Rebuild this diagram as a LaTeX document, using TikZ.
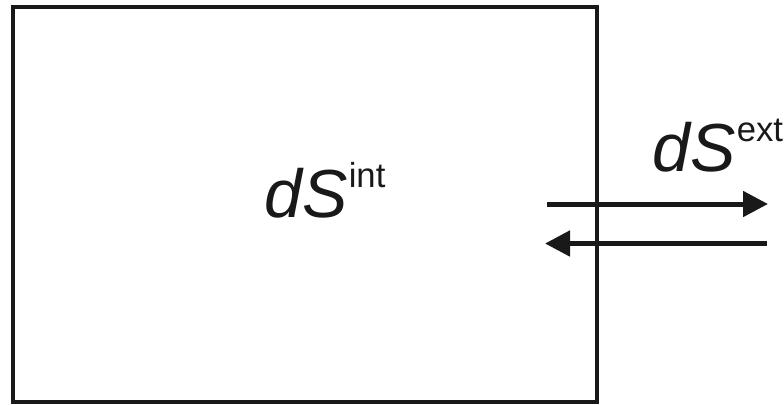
\documentclass[tikz,border=0pt]{standalone}
\usepackage{fontspec}
\setmainfont{Liberation Sans}
\usetikzlibrary{arrows.meta}
\tikzset{
  box/.style={draw=black!90, line width=3pt},
  flow/.style={draw=black!90, line width=3.75pt, -{Triangle[length=18.75pt,width=18.75pt]}},
  lbl/.style={anchor=base west, inner sep=0pt, text=black!90}
}
\newcommand{\entlabel}[1]{\fontsize{51}{51}\selectfont\itshape dS\kern1pt\upshape\fontsize{26}{26}\selectfont\raisebox{22.5pt}{#1}}
\begin{document}
\begin{tikzpicture}[x=0.75pt,y=-0.75pt]
\useasboundingbox (0,0) rectangle (784,404);
\coordinate (tl) at (12.5,6.5);
\coordinate (br) at (597,401.5);
\draw[box] (tl) rectangle (br);
\node[lbl] (int) at (264,217) {\entlabel{int}};
\node[lbl] (ext) at (652,171) {\entlabel{ext}};
\coordinate (o1) at (547,204);
\coordinate (o2) at (768,204);
\coordinate (i1) at (767,243.5);
\coordinate (i2) at (545,243.5);
\draw[flow] (o1) -- (o2);
\draw[flow] (i1) -- (i2);
\end{tikzpicture}
\end{document}
